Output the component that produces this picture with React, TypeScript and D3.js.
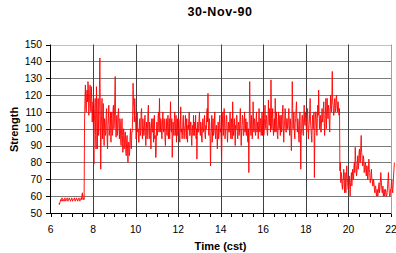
import React from "react";
import * as d3 from "d3";

const title = "30-Nov-90";
const xLabel = "Time (cst)";
const yLabel = "Strength";
const xTicks = [6, 8, 10, 12, 14, 16, 18, 20, 22];
const yTicks = [50, 60, 70, 80, 90, 100, 110, 120, 130, 140, 150];

// regular sampling: first sample hour and interval (hours)
const startHour = 6.4;
const sampleStep = 0.02;

// quiet period before 7.6
const earlyStrength = [
  56, 55, 56, 57, 58, 57, 58, 59, 58, 57, 58, 58, 57, 58, 59, 58, 57, 58, 58, 59,
  58, 57, 58, 58, 59, 58, 58, 57, 58, 58, 59, 58, 57, 58, 58, 58, 59, 58, 57, 58,
  58, 59, 58, 58, 57, 58, 58, 59, 58, 57, 58, 58, 59, 58, 61, 62, 58, 58, 59, 58,
];

// active period 7.6 - 19.58
const activeStrength = [
  104, 118, 126, 112, 110, 121, 123, 116, 128, 124, 108, 115, 120, 126, 114, 110, 125, 118, 104, 112,
  116, 96, 79, 104, 112, 118, 96, 88, 125, 110, 88, 106, 118, 96, 100, 124, 142, 112, 76, 98,
  108, 118, 94, 104, 115, 98, 90, 106, 104, 96, 98, 110, 112, 94, 88, 102, 106, 114, 96, 100,
  102, 110, 92, 106, 110, 96, 98, 112, 114, 100, 104, 118, 131, 108, 95, 104, 108, 96, 100, 110,
  112, 100, 94, 106, 104, 92, 90, 100, 106, 96, 86, 98, 100, 88, 92, 98, 98, 86, 84, 94,
  96, 88, 80, 92, 92, 84, 86, 96, 100, 90, 88, 98, 98, 108, 127, 116, 112, 104, 118, 108,
  104, 94, 96, 108, 110, 98, 100, 92, 92, 104, 106, 96, 98, 110, 112, 100, 94, 106, 102, 96,
  96, 104, 108, 96, 90, 100, 104, 94, 100, 110, 114, 98, 94, 104, 102, 96, 88, 100, 106, 98,
  98, 106, 92, 100, 108, 94, 96, 83, 83, 98, 104, 96, 100, 108, 110, 98, 118, 104, 98, 106,
  104, 96, 94, 104, 110, 100, 98, 106, 102, 94, 90, 100, 106, 98, 96, 104, 108, 94, 100, 106,
  94, 104, 116, 100, 98, 106, 83, 94, 104, 98, 96, 106, 110, 96, 100, 108, 92, 100, 106, 96,
  98, 106, 104, 94, 92, 102, 113, 98, 100, 94, 96, 104, 108, 98, 94, 100, 102, 108, 98, 94,
  106, 96, 92, 102, 100, 106, 110, 96, 96, 104, 104, 94, 90, 100, 102, 96, 108, 100, 96, 104,
  100, 108, 94, 100, 82, 96, 104, 98, 98, 106, 110, 100, 96, 104, 102, 94, 92, 102, 106, 98,
  98, 104, 108, 96, 94, 102, 100, 108, 112, 104, 121, 102, 96, 106, 104, 94, 78, 96, 100, 108,
  92, 100, 106, 96, 98, 104, 110, 98, 94, 102, 102, 96, 88, 100, 104, 94, 96, 106, 108, 98,
  100, 94, 80, 98, 104, 110, 96, 100, 112, 104, 94, 98, 100, 108, 108, 96, 92, 100, 104, 98,
  98, 104, 110, 96, 94, 106, 102, 94, 116, 104, 96, 100, 106, 98, 90, 102, 100, 108, 108, 96,
  94, 102, 104, 96, 98, 106, 112, 100, 90, 98, 102, 108, 106, 96, 96, 104, 110, 98, 100, 106,
  96, 102, 104, 94, 92, 100, 74, 104, 128, 110, 100, 96, 108, 102, 94, 100, 116, 104, 98, 106,
  104, 98, 96, 106, 110, 98, 100, 104, 94, 102, 112, 100, 98, 106, 106, 96, 102, 110, 96, 104,
  108, 96, 98, 106, 114, 102, 100, 108, 106, 98, 96, 104, 117, 106, 102, 112, 110, 98, 129, 110,
  100, 106, 112, 100, 96, 104, 106, 98, 118, 104, 98, 110, 104, 96, 94, 102, 110, 100, 102, 108,
  96, 104, 108, 98, 100, 110, 114, 102, 92, 100, 104, 112, 110, 98, 98, 106, 106, 100, 100, 108,
  112, 102, 96, 106, 104, 96, 87, 100, 128, 112, 100, 106, 110, 98, 94, 104, 106, 112, 116, 104,
  98, 106, 104, 96, 92, 102, 110, 100, 76, 96, 100, 108, 108, 98, 96, 106, 114, 104, 102, 110,
  106, 100, 98, 108, 112, 102, 94, 100, 104, 110, 118, 104, 100, 96, 92, 104, 108, 100, 102, 110,
  71, 96, 104, 110, 110, 100, 96, 106, 114, 108, 123, 110, 100, 106, 108, 98, 98, 106, 112, 104,
  104, 112, 116, 106, 96, 104, 110, 118, 100, 108, 118, 110, 106, 114, 112, 104, 98, 110, 120, 112,
  110, 118, 134, 116, 114, 108, 108, 116, 118, 110, 112, 118, 120, 114, 110, 116, 116, 110, 108, 112,
];

// after the drop at 19.6
const lateStrength = [
  75, 80, 68, 74, 72, 66, 64, 70, 70, 76, 66, 62, 74, 68, 62, 70, 78, 72, 68, 64,
  64, 70, 72, 66, 60, 68, 70, 74, 66, 72, 76, 70, 70, 78, 80, 74, 89, 82, 78, 72,
  74, 80, 84, 76, 78, 86, 88, 80, 80, 90, 96, 86, 84, 78, 78, 84, 82, 74, 76, 80,
  80, 74, 72, 78, 78, 70, 70, 76, 82, 76, 74, 68, 68, 72, 76, 70, 70, 66, 66, 70,
  68, 64, 62, 66, 66, 62, 60, 64, 64, 60, 62, 66, 68, 62, 64, 68, 74, 70, 66, 62,
  62, 66, 60, 62, 64, 60, 61, 64, 63, 60, 60, 62, 66, 70, 74, 66, 62, 60, 60, 64,
  64, 68, 70, 64, 62, 66, 72, 76, 80,
];

const strength = [...earlyStrength, ...activeStrength, ...lateStrength];

const W = 396;
const H = 253;

export default function App() {
  React.useEffect(() => {
    document.body.style.margin = "0";
  }, []);

  const x = d3.scaleLinear().domain([6, 22]).range([50.5, 391]);
  const y = d3.scaleLinear().domain([50, 150]).range([213, 44.5]);

  const points: [number, number][] = strength.map((v, i) => [startHour + i * sampleStep, v]);
  const line = d3
    .line<[number, number]>()
    .x((d) => x(d[0]))
    .y((d) => y(d[1]));

  const minorTicks = d3.range(6, 22.01, 0.5);
  const font = "Arial, 'Liberation Sans', Helvetica, sans-serif";

  return (
    <svg
      width={W}
      height={H}
      style={{ position: "absolute", left: 0, top: 0, background: "#fff" }}
      fontFamily={font}
    >
      <rect x={0} y={0} width={W} height={H} fill="#fff" />
      {/* horizontal grid */}
      {yTicks.slice(1).map((t) => (
        <line
          key={"h" + t}
          x1={x(6)}
          x2={x(22)}
          y1={Math.round(y(t)) + 0.5}
          y2={Math.round(y(t)) + 0.5}
          stroke={t === 150 ? "#c0c0c0" : "#7a7a7a"}
          strokeWidth={1}
        />
      ))}
      {/* vertical grid */}
      {xTicks.slice(1).map((t) => (
        <line
          key={"v" + t}
          x1={Math.round(x(t)) + 0.5}
          x2={Math.round(x(t)) + 0.5}
          y1={y(150)}
          y2={y(50)}
          stroke={t === 22 ? "#a0a0a0" : "#404040"}
          strokeWidth={1}
        />
      ))}
      {/* axes */}
      <line x1={50.5} x2={50.5} y1={y(150)} y2={213.5} stroke="#000" />
      <line x1={50} x2={x(22)} y1={213.5} y2={213.5} stroke="#000" />
      {yTicks.map((t) => (
        <g key={"yt" + t}>
          <line x1={46} x2={50.5} y1={Math.round(y(t)) + 0.5} y2={Math.round(y(t)) + 0.5} stroke="#000" />
          <text x={42} y={y(t) + 3.6} fontSize={10.3} textAnchor="end" fill="#000">
            {t}
          </text>
        </g>
      ))}
      {minorTicks.map((t) => (
        <line
          key={"mt" + t}
          x1={Math.round(x(t)) + 0.5}
          x2={Math.round(x(t)) + 0.5}
          y1={213.5}
          y2={217}
          stroke="#000"
        />
      ))}
      {xTicks.map((t) => (
        <text key={"xt" + t} x={x(t)} y={233} fontSize={10.3} textAnchor="middle" fill="#000">
          {t}
        </text>
      ))}
      {/* data */}
      <path d={line(points) || ""} fill="none" stroke="#ff0000" strokeWidth={0.9} strokeLinejoin="round" />
      {/* titles */}
      <text x={220} y={16} fontSize={12.5} fontWeight="bold" textAnchor="middle" letterSpacing={0.6} fill="#000">
        {title}
      </text>
      <text x={220.5} y={250} fontSize={11} fontWeight="bold" textAnchor="middle" fill="#000">
        {xLabel}
      </text>
      <text
        transform={`translate(18,129.5) rotate(-90)`}
        fontSize={11}
        fontWeight="bold"
        textAnchor="middle"
        fill="#000"
      >
        {yLabel}
      </text>
    </svg>
  );
}
